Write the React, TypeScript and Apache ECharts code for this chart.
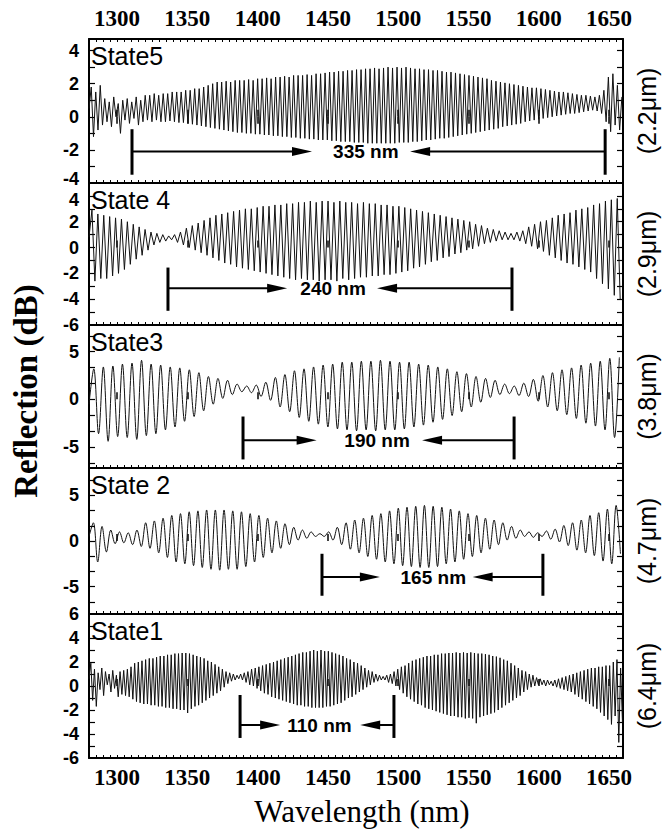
import React, { useEffect, useRef } from "react";
import * as echarts from "echarts";

// ---------------- data ----------------
const WL_MIN = 1280;
const WL_MAX = 1660;
const WL_TICKS = [1300, 1350, 1400, 1450, 1500, 1550, 1600, 1650];

const PANEL_NAMES = ["State5", "State 4", "State3", "State 2", "State1"];
const CORE_LABELS = ["(2.2\u03bcm)", "(2.9\u03bcm)", "(3.8\u03bcm)", "(4.7\u03bcm)", "(6.4\u03bcm)"];

const Y_MIN = [-4, -6, -7.2, -8, -6];
const Y_MAX = [4.7, 5, 7.8, 8, 6];
const Y_LABELS = [
  [-4, -2, 0, 2, 4],
  [-6, -4, -2, 0, 2, 4],
  [-5, 0, 5],
  [-5, 0, 5],
  [-6, -4, -2, 0, 2, 4, 6],
];
const Y_TICKS = [
  [-3, -2, -1, 0, 1, 2, 3, 4],
  [-5, -4, -3, -2, -1, 0, 1, 2, 3, 4],
  [-6.67, -5, -3.33, -1.67, 0, 1.67, 3.33, 5, 6.67],
  [-6.67, -5, -3.33, -1.67, 0, 1.67, 3.33, 5, 6.67],
  [-5, -4, -3, -2, -1, 0, 1, 2, 3, 4, 5],
];

// wavelength sampling of each trace (start at WL_MIN, nm per sample = half a fringe)
const SAMPLE_STEP = [1.6, 2.1, 3.4, 3.1, 1.3];

// reflection (dB), alternating fringe maxima / minima
const STATE5 = [
  0.5, 1.8, -1.2, 1.5, -0.8, 1.9, -0.5,
  1.1, -0.3, 0.9, -0.6, 1.2, 0.0, 0.8, -1.0, 1.0, -0.2, 1.1, -0.4, 0.9, -0.1, 1.2, -0.5, 1.0, -0.3, 1.3,
  -0.2, 1.3, -0.3, 1.4, -0.2, 1.3, -0.3, 1.4, -0.3, 1.4, -0.25, 1.5, -0.3, 1.5,
  -0.35, 1.5, -0.35, 1.6, -0.4, 1.6, -0.45, 1.7, -0.5, 1.7, -0.55, 1.8, -0.6, 1.9, -0.65, 2.0,
  -0.7, 2.1, -0.75, 2.1, -0.8, 2.15, -0.85, 2.1, -0.9, 2.2, -0.95, 2.2, -0.95, 2.2, -1.0, 2.25, -1.0, 2.2, -1.05, 2.3,
  -1.05, 2.3, -1.1, 2.35, -1.1, 2.3, -1.15, 2.4, -1.15, 2.4, -1.2, 2.45, -1.2, 2.4, -1.25, 2.5, -1.25, 2.5, -1.3, 2.5,
  -1.3, 2.55, -1.35, 2.5, -1.35, 2.6, -1.4, 2.6, -1.4, 2.65,
  -1.4, 2.7, -1.45, 2.7, -1.45, 2.75, -1.5, 2.75, -1.5, 2.8, -1.5, 2.8, -1.55, 2.85, -1.55, 2.85, -1.55, 2.9,
  -1.6, 2.9, -1.6, 2.95, -1.6, 2.9, -1.6, 2.95, -1.6, 3.0, -1.6, 2.95,
  -1.6, 3.0, -1.55, 2.95, -1.55, 3.0, -1.55, 2.95, -1.5, 2.9, -1.5, 2.9, -1.45, 2.85, -1.4, 2.85, -1.4, 2.8,
  -1.35, 2.8, -1.3, 2.75, -1.3, 2.7, -1.25,
  2.7, -1.2, 2.65, -1.15, 2.6, -1.1, 2.55, -1.05, 2.5, -1.0, 2.45, -0.95, 2.4, -0.9, 2.35, -0.85, 2.3, -0.8, 2.2,
  -0.75, 2.15, -0.7, 2.1, -0.6, 2.05, -0.55, 2.0, -0.5, 1.95, -0.45,
  1.9, -0.4, 1.85, -0.3, 1.8, -0.25, 1.75, -0.2, 1.75, -0.15, 1.7, -0.1, 1.65, -0.05, 1.6, 0.0, 1.55, 0.05, 1.5, 0.1,
  1.5, 0.15, 1.45, 0.2, 1.4, 0.2, 1.35, 0.25, 1.3, 0.3,
  1.3, 0.35, 1.25, 0.4, 1.2, 0.35, 1.3, 0.2, 1.6, -0.3, 2.4, -0.9, 2.6, -0.5, 1.9, -0.8, 1.2,
];

const STATE4 = [
  0.8, 2.9, -2.6, 2.6, -2.4, 2.5, -2.4, 2.4, -2.2, 2.3,
  -2.0, 2.2, -1.7, 2.0, -1.3, 1.8, -0.9, 1.6, -0.6, 1.4,
  -0.2, 1.2, 0.2, 1.1, 0.4, 1.0, 0.5, 0.9, 0.6, 1.0,
  0.4, 1.2, 0.2, 1.5, 0.0, 1.7, -0.2, 1.9, -0.4, 2.1,
  -0.6, 2.3, -0.8, 2.5, -1.0, 2.6, -1.2, 2.7, -1.3, 2.8,
  -1.5, 2.9, -1.6, 3.0, -1.7, 3.0, -1.8, 3.1, -1.9, 3.2,
  -2.0, 3.2, -2.1, 3.3, -2.2, 3.3, -2.3, 3.4, -2.4, 3.4,
  -2.5, 3.5, -2.4, 3.5, -2.5, 3.6, -2.5, 3.5, -2.6, 3.6,
  -2.5, 3.6, -2.5, 3.5, -2.6, 3.6, -2.4, 3.5, -2.5, 3.5,
  -2.4, 3.4, -2.3, 3.5, -2.3, 3.4, -2.2, 3.4, -2.2, 3.3,
  -2.1, 3.3, -2.1, 3.2, -2.0, 3.2, -1.9, 3.1, -1.8, 3.0,
  -1.6, 2.9, -1.5, 2.8, -1.3, 2.7, -1.1, 2.6, -1.0, 2.5,
  -0.8, 2.4, -0.7, 2.3, -0.5, 2.2, -0.4, 2.1, -0.2, 2.0,
  -0.1, 1.8, 0.1, 1.7, 0.3, 1.5, 0.4, 1.4, 0.5, 1.3,
  0.6, 1.2, 0.6, 1.1, 0.6, 1.2, 0.5, 1.3, 0.3, 1.6,
  0.1, 1.8, -0.1, 2.0, -0.3, 2.1, -0.6, 2.3, -0.8, 2.5,
  -1.0, 2.6, -1.2, 2.7, -1.3, 2.9, -1.5, 3.0, -1.7, 3.1,
  -1.9, 3.3, -2.4, 3.4, -2.8, 3.6, -3.2, 3.7, -3.7, 3.8,
  -4.0,
];

const STATE3 = [
  -0.5, 3.2, -3.6, 3.4, -4.4, 3.5, -3.9, 3.7, -4.0, 3.8,
  -4.2, 4.1, -3.8, 3.7, -3.6, 3.6, -3.2, 3.4, -2.9, 3.3,
  -2.3, 3.1, -1.8, 2.8, -1.2, 2.4, -0.5, 2.2, 0.1, 2.0,
  0.5, 1.6, 0.8, 1.4, 0.7, 1.5, 0.3, 1.8, -0.1, 2.3,
  -0.8, 2.6, -1.3, 3.0, -1.9, 3.2, -2.3, 3.4, -2.6, 3.6,
  -2.9, 3.7, -3.1, 3.9, -3.2, 3.9, -3.3, 4.0, -3.2, 4.0,
  -3.3, 4.1, -3.2, 4.0, -3.2, 3.9, -3.1, 3.9, -2.9, 3.7,
  -2.7, 3.6, -2.4, 3.4, -2.1, 3.2, -1.7, 2.9, -1.3, 2.7,
  -0.8, 2.4, -0.3, 2.2, 0.2, 2.0, 0.5, 1.6, 0.6, 1.4,
  0.4, 1.7, 0.3, 2.1, -0.2, 2.5, -0.8, 2.8, -1.2, 3.1,
  -1.6, 3.3, -2.0, 3.6, -2.5, 3.8, -2.8, 4.0, -3.2, 4.3,
  -4.0, 4.4,
];

const STATE2 = [
  0.5, 2.0, -2.3, 1.6, -1.2, 1.2, -0.3, 1.0, -0.2, 0.9,
  -0.4, 1.2, -0.6, 2.0, -0.8, 2.2, -1.3, 2.5, -1.8, 2.8,
  -2.3, 3.0, -2.5, 3.2, -2.7, 3.3, -2.9, 3.4, -3.1, 3.4,
  -3.2, 3.4, -3.1, 3.3, -3.1, 3.2, -2.8, 3.0, -2.3, 2.8,
  -1.8, 2.5, -1.3, 2.2, -0.8, 1.9, -0.4, 1.5, 0.1, 1.2,
  0.3, 1.0, 0.5, 0.8, 0.5, 1.0, 0.1, 1.5, -0.4, 2.0,
  -0.9, 2.3, -1.3, 2.5, -1.7, 2.8, -2.0, 3.0, -2.3, 3.3,
  -2.5, 3.6, -2.7, 3.7, -2.8, 3.8, -2.9, 3.9, -2.9, 3.8,
  -2.8, 3.7, -2.5, 3.5, -2.3, 3.3, -2.0, 3.0, -1.7, 2.8,
  -1.3, 2.5, -0.9, 2.3, -0.4, 2.0, 0.1, 1.6, 0.3, 1.2,
  0.5, 1.0, 0.4, 0.9, 0.5, 1.1, 0.2, 1.3, -0.1, 1.7,
  -0.5, 2.0, -1.0, 2.3, -1.3, 2.8, -1.6, 3.1, -2.2, 3.5,
  -2.5, 3.9, -1.4,
];

const STATE1 = [
  0.6, 1.9, -1.2, 1.4, -1.7, 1.1, -0.3, 1.5, -0.8, 1.2, 0.1, 1.0, -0.5, 1.3, -0.2, 0.9, -0.9, 1.2,
  -0.7, 1.3, -0.8, 1.4, -0.9, 1.6, -1.1, 1.9, -1.3, 2.0,
  -1.4, 2.1, -1.5, 2.2, -1.5, 2.3, -1.6, 2.3, -1.6, 2.4, -1.7, 2.5, -1.7, 2.5, -1.8, 2.6, -1.8, 2.6, -1.9, 2.7,
  -1.9, 2.7, -2.0, 2.75, -2.0, 2.75, -2.25, 2.7, -1.9, 2.6, -1.7, 2.5, -1.6, 2.4, -1.4, 2.3, -1.2, 2.1, -1.0, 2.0,
  -0.8, 1.8, -0.6, 1.6, -0.4, 1.4, -0.1, 1.2, 0.2, 1.1, 0.4, 1.0, 0.5, 0.9, 0.6, 1.0, 0.5, 1.1, 0.3, 1.2,
  0.1, 1.4, 0.0, 1.5, -0.2, 1.6, -0.4, 1.7, -0.6, 1.8, -0.7, 1.9, -0.9, 2.0, -1.0, 2.1, -1.1, 2.2, -1.2, 2.3,
  -1.3, 2.4, -1.4, 2.5, -1.5, 2.6, -1.6, 2.7, -1.6, 2.8, -1.7, 2.8, -1.7, 2.9, -1.8, 3.0, -1.8, 2.9, -1.8, 3.0,
  -1.8, 2.9, -1.7, 2.9, -1.7, 2.8, -1.6, 2.7, -1.5, 2.6, -1.4, 2.5, -1.2, 2.3, -1.0, 2.2, -0.9, 2.0, -0.7, 1.9,
  -0.5, 1.7, -0.3, 1.5, -0.1, 1.3, 0.1, 1.2, 0.3, 1.0, 0.4, 0.9, 0.5, 0.8, 0.5, 0.9, 0.3, 1.0, 0.2, 1.2,
  0.0, 1.4, -0.3, 1.6, -0.6, 1.7, -0.9, 1.9, -1.1, 2.1, -1.3, 2.2, -1.5, 2.3, -1.6, 2.4, -1.8, 2.5, -1.9, 2.5,
  -2.0, 2.6, -2.1, 2.6, -2.2, 2.7, -2.3, 2.7, -2.4, 2.75, -2.5, 2.75, -2.5, 2.8, -2.6, 2.75, -2.6, 2.8, -2.7, 2.75,
  -2.65, 2.8, -2.7, 2.75, -3.1, 2.7, -2.6, 2.7, -2.5, 2.65, -2.4, 2.6, -2.3, 2.5, -2.2, 2.45, -2.0, 2.35, -1.8, 2.2,
  -1.6, 2.1, -1.4, 1.9, -1.2, 1.7, -1.0, 1.5, -0.8, 1.3, -0.5, 1.2, -0.3, 1.0, -0.1, 0.9, 0.0, 0.7, 0.1, 0.6,
  0.1, 0.5, 0.0, 0.5, 0.1, 0.4, 0.0, 0.5, -0.1, 0.6, -0.2, 0.7, -0.3, 0.8, -0.4, 0.9, -0.5, 1.0, -0.7, 1.1,
  -0.9, 1.2, -1.1, 1.3, -1.3, 1.4, -1.5, 1.5, -1.7, 1.5, -1.9, 1.6, -2.2, 1.6, -2.5, 1.7, -2.8, 1.7, -3.2, 2.0,
  -2.5, 2.2, -4.7, 1.5, -3.0,
];

const TRACES = [STATE5, STATE4, STATE3, STATE2, STATE1];

// spacing annotations (wavelengths in nm, levels in dB)
const ANNOT_LABELS = ["335 nm", "240 nm", "190 nm", "165 nm", "110 nm"];
const ANNOT_FROM = [1310.6, 1336.2, 1389.6, 1445.8, 1387.5];
const ANNOT_TO = [1647.3, 1581.0, 1582.5, 1603.0, 1497.0];
const ANNOT_RIGHT_TIP = [1438.7, 1421.0, 1442.0, 1487.0, 1416.0];
const ANNOT_LEFT_TIP = [1508.5, 1485.0, 1517.0, 1553.0, 1473.0];
const ANNOT_TEXT_AT = [1477.0, 1453.7, 1485.0, 1525.0, 1444.0];
const ANNOT_LEVEL = [-2.1, -3.15, -4.3, -3.95, -3.25];
const ANNOT_BAR_TOP = [-0.75, -1.55, -1.8, -1.4, -0.75];
const ANNOT_BAR_BOTTOM = [-3.5, -4.9, -6.3, -6.0, -4.33];

// ---------------- layout ----------------
const PANEL_TOP = [39, 183, 325, 468, 614];
const PANEL_HEIGHT = [144, 142, 143, 146, 144];
const PLOT_LEFT = 89;
const PLOT_WIDTH = 534;

const SANS = "'Liberation Sans', Arial, Helvetica, sans-serif";
const SERIF = "'Liberation Serif', 'Times New Roman', serif";

function makeAnnotRenderer(label: string) {
  return (params: any, api: any) => {
    const lvl = api.value(5);
    const c = (x: number, y: number) => api.coord([x, y]);
    const s = c(api.value(0), lvl);
    const e = c(api.value(1), lvl);
    const tr = c(api.value(2), lvl);
    const tl = c(api.value(3), lvl);
    const tx = c(api.value(4), lvl);
    const sTop = c(api.value(0), api.value(6));
    const sBot = c(api.value(0), api.value(7));
    const eTop = c(api.value(1), api.value(6));
    const eBot = c(api.value(1), api.value(7));
    const AH = 20;
    const AW = 4.5;
    const y = s[1];
    const stroke = { stroke: "#000", lineWidth: 2 };
    return {
      type: "group",
      children: [
        { type: "line", shape: { x1: sTop[0], y1: sTop[1], x2: sBot[0], y2: sBot[1] }, style: { stroke: "#000", lineWidth: 3 } },
        { type: "line", shape: { x1: eTop[0], y1: eTop[1], x2: eBot[0], y2: eBot[1] }, style: { stroke: "#000", lineWidth: 3 } },
        { type: "line", shape: { x1: s[0], y1: y, x2: tr[0] - AH + 2, y2: y }, style: stroke },
        { type: "polygon", shape: { points: [[tr[0] - AH, y - AW], [tr[0], y], [tr[0] - AH, y + AW]] }, style: { fill: "#000" } },
        { type: "line", shape: { x1: e[0], y1: y, x2: tl[0] + AH - 2, y2: y }, style: stroke },
        { type: "polygon", shape: { points: [[tl[0] + AH, y - AW], [tl[0], y], [tl[0] + AH, y + AW]] }, style: { fill: "#000" } },
        {
          type: "text",
          x: tx[0],
          y: tx[1],
          style: { text: label, font: `bold 19px ${SANS}`, fill: "#000", align: "center", verticalAlign: "middle" },
        },
      ],
    };
  };
}

function buildOption() {
  const grid = PANEL_TOP.map((t, k) => ({ left: PLOT_LEFT, width: PLOT_WIDTH, top: t, height: PANEL_HEIGHT[k] }));

  const xLabelStyle = {
    color: "#000", fontFamily: "Liberation Serif", fontWeight: "bold", fontSize: 23,
    formatter: (v: number) => String(v),
  };
  const axisLineStyle = { show: true, onZero: false, lineStyle: { color: "#000", width: 2 } };

  const xAxis: any[] = [];
  PANEL_TOP.forEach((_, k) => {
    xAxis.push({
      type: "value", gridIndex: k, position: "bottom", min: WL_MIN, max: WL_MAX, interval: 5,
      axisLine: axisLineStyle, splitLine: { show: false },
      axisTick: { show: true, inside: true, length: 3, lineStyle: { color: "#000", width: 1 } },
      axisLabel: { show: false },
    });
    xAxis.push({
      type: "value", gridIndex: k, position: "bottom", min: WL_MIN, max: WL_MAX,
      axisLine: { show: false }, splitLine: { show: false },
      axisTick: { show: true, inside: true, length: 7, customValues: WL_TICKS, lineStyle: { color: "#000", width: 1.5 } },
      axisLabel: { show: k === 4, customValues: WL_TICKS, margin: 8, ...xLabelStyle },
    });
  });
  // top axis of the first panel
  xAxis.push({
    type: "value", gridIndex: 0, position: "top", min: WL_MIN, max: WL_MAX, interval: 5,
    axisLine: axisLineStyle, splitLine: { show: false },
    axisTick: { show: true, inside: true, length: 3, lineStyle: { color: "#000", width: 1 } },
    axisLabel: { show: false },
  });
  xAxis.push({
    type: "value", gridIndex: 0, position: "top", min: WL_MIN, max: WL_MAX,
    axisLine: { show: false }, splitLine: { show: false },
    axisTick: { show: true, inside: true, length: 7, customValues: WL_TICKS, lineStyle: { color: "#000", width: 1.5 } },
    axisLabel: { show: true, customValues: WL_TICKS, margin: 9, ...xLabelStyle },
  });

  // labels at the shared panel borders are nudged apart a little (as in the reference)
  const yLabelRich = {
    n: { fontFamily: "Liberation Sans", fontWeight: "bold", fontSize: 18, color: "#000" },
    up: { fontFamily: "Liberation Sans", fontWeight: "bold", fontSize: 18, color: "#000", padding: [0, 0, 8, 0] },
    down: { fontFamily: "Liberation Sans", fontWeight: "bold", fontSize: 18, color: "#000", padding: [8, 0, 0, 0] },
  };
  const yFormatter = (k: number) => (v: number) => {
    const lo = Y_LABELS[k][0];
    const hi = Y_LABELS[k][Y_LABELS[k].length - 1];
    if (k === 0 && v === lo) return `{up|${v}}`;
    if (k === 1 && v === hi) return `{down|${v}}`;
    return `{n|${v}}`;
  };

  const yAxis: any[] = [];
  PANEL_TOP.forEach((_, k) => {
    yAxis.push({
      type: "value", gridIndex: k, position: "left", min: Y_MIN[k], max: Y_MAX[k],
      axisLine: axisLineStyle, splitLine: { show: false },
      axisTick: { show: true, inside: true, length: 6, customValues: Y_TICKS[k], lineStyle: { color: "#000", width: 1.2 } },
      axisLabel: {
        show: true, customValues: Y_LABELS[k], margin: 10, color: "#000",
        fontFamily: "Liberation Sans", fontWeight: "bold", fontSize: 18,
        formatter: yFormatter(k), rich: yLabelRich,
      },
    });
    yAxis.push({
      type: "value", gridIndex: k, position: "right", min: Y_MIN[k], max: Y_MAX[k],
      axisLine: axisLineStyle, splitLine: { show: false },
      axisTick: { show: true, inside: true, length: 6, customValues: Y_TICKS[k], lineStyle: { color: "#000", width: 1.2 } },
      axisLabel: { show: false },
    });
  });

  const series: any[] = [];
  TRACES.forEach((trace, k) => {
    series.push({
      type: "line",
      xAxisIndex: 2 * k,
      yAxisIndex: 2 * k,
      data: trace.map((v, i) => [WL_MIN + i * SAMPLE_STEP[k], v]),
      symbol: "none",
      showSymbol: false,
      smooth: k === 2 || k === 3 ? 0.35 : false,
      lineStyle: { color: "#111", width: 1 },
      silent: true,
      z: 2,
    });
    series.push({
      type: "custom",
      xAxisIndex: 2 * k,
      yAxisIndex: 2 * k,
      clip: false,
      silent: true,
      z: 5,
      encode: { x: [0, 1, 2, 3, 4], y: [5, 6, 7] },
      data: [[
        ANNOT_FROM[k], ANNOT_TO[k], ANNOT_RIGHT_TIP[k], ANNOT_LEFT_TIP[k], ANNOT_TEXT_AT[k],
        ANNOT_LEVEL[k], ANNOT_BAR_TOP[k], ANNOT_BAR_BOTTOM[k],
      ]],
      renderItem: makeAnnotRenderer(ANNOT_LABELS[k]),
    });
  });

  const graphic: any[] = [];
  PANEL_NAMES.forEach((name, k) => {
    graphic.push({
      type: "text", x: 91, y: PANEL_TOP[k] + 4, z: 100,
      style: { text: name, font: `25px ${SANS}`, fill: "#000", align: "left", verticalAlign: "top" },
    });
    graphic.push({
      type: "text", x: 647, y: PANEL_TOP[k] + PANEL_HEIGHT[k] / 2, rotation: Math.PI / 2, z: 100,
      style: { text: CORE_LABELS[k], font: `25px ${SANS}`, fill: "#000", align: "center", verticalAlign: "middle" },
    });
  });
  graphic.push({
    type: "text", x: 26, y: 391, rotation: Math.PI / 2, z: 100,
    style: { text: "Reflection (dB)", font: `bold 33px ${SERIF}`, fill: "#000", align: "center", verticalAlign: "middle" },
  });
  graphic.push({
    type: "text", x: 362, y: 811, z: 100,
    style: { text: "Wavelength (nm)", font: `31px ${SERIF}`, fill: "#000", align: "center", verticalAlign: "middle" },
  });

  return {
    animation: false,
    backgroundColor: "#fff",
    grid,
    xAxis,
    yAxis,
    series,
    graphic,
  };
}

export default function App() {
  const ref = useRef<HTMLDivElement | null>(null);
  useEffect(() => {
    document.body.style.margin = "0";
    if (!ref.current) return;
    const chart = echarts.init(ref.current, undefined, { renderer: "svg" });
    chart.setOption(buildOption() as any);
    return () => chart.dispose();
  }, []);
  return <div ref={ref} style={{ width: 663, height: 831, background: "#fff" }} />;
}
